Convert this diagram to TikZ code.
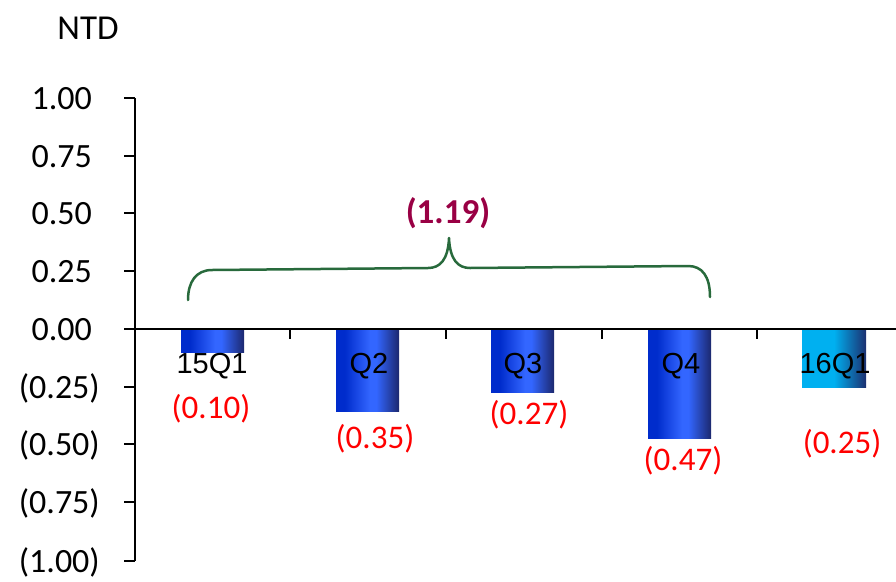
\documentclass[tikz,border=0pt]{standalone}
\usepackage{fontspec}
\setmainfont{Carlito}
\newfontfamily\arialf{Liberation Sans}
\definecolor{barL}{RGB}{0,44,204}
\definecolor{barM}{RGB}{51,102,255}
\definecolor{barR}{RGB}{28,40,110}
\definecolor{cyL}{RGB}{0,176,240}
\definecolor{cyR}{RGB}{28,48,112}
\definecolor{bracegreen}{RGB}{40,106,60}
\definecolor{totred}{RGB}{153,0,68}
\pgfdeclarehorizontalshading{bluegrad}{100bp}{color(0bp)=(barL); color(25bp)=(barL); color(32bp)=(barL); color(52bp)=(barM); color(57bp)=(barM); color(75bp)=(barR); color(100bp)=(barR)}
\pgfdeclarehorizontalshading{cyangrad}{100bp}{color(0bp)=(cyL); color(25bp)=(cyL); color(50bp)=(cyL); color(75bp)=(cyR); color(100bp)=(cyR)}
\tikzset{
  bluebar/.style={shading=bluegrad, draw=none},
  cyanbar/.style={shading=cyangrad, draw=none},
  ylab/.style={anchor=east, inner sep=0pt, font=\fontsize{34}{36}\selectfont},
  catlab/.style={inner sep=0pt, font=\arialf\fontsize{29}{31}\selectfont},
  vallab/.style={inner sep=0pt, text=red, font=\fontsize{33}{36}\selectfont},
  axisline/.style={line width=2.2pt, black},
  tickline/.style={line width=1.6pt, black}
}
\begin{document}
\begin{tikzpicture}[x=1pt,y=-1pt]
\useasboundingbox (0,0) rectangle (896,581);
% bars
\shade[bluebar] (181,329) rectangle (244,352);
\shade[bluebar] (336,329) rectangle (399,411);
\shade[bluebar] (491,329) rectangle (554,392);
\shade[bluebar] (648,329) rectangle (711,438);
\shade[cyanbar] (802,329) rectangle (866,387);
% axes
\coordinate (ytop) at (135,98);
\coordinate (ybot) at (135,561);
\coordinate (xl) at (124,329);
\coordinate (xr) at (896,329);
\draw[tickline] (ytop) -- (ybot);
\draw[axisline] (xl) -- (xr);
\foreach \v/\t in {98/1.00,156/0.75,213/0.50,271/0.25,329/0.00}{
  \draw[tickline] (124,\v) -- (135,\v);
  \node[ylab] at (92,\v+1) {\t};
}
\foreach \v/\t in {387/(0.25),444/(0.50),502/(0.75),561/(1.00)}{
  \draw[tickline] (124,\v) -- (135,\v);
  \node[ylab] at (100,\v+1) {\t};
}
\foreach \x in {290,446,602,757}{
  \draw[tickline] (\x,329) -- (\x,339);
}
\node[font=\fontsize{35}{37}\selectfont, inner sep=0pt] (ntd) at (88,28) {NTD};
% category labels
\node[catlab] (c1) at (212,366) {15Q1};
\node[catlab] (c2) at (369,366) {Q2};
\node[catlab] (c3) at (523,366) {Q3};
\node[catlab] (c4) at (681,366) {Q4};
\node[catlab] (c5) at (835,366) {16Q1};
% values
\node[vallab] (v1) at (211,409) {(0.10)};
\node[vallab] (v2) at (375,439) {(0.35)};
\node[vallab] (v3) at (529,415) {(0.27)};
\node[vallab] (v4) at (683,461) {(0.47)};
\node[vallab] (v5) at (842,444) {(0.25)};
% brace
\coordinate (bl) at (188,300);
\coordinate (br) at (710,297);
\coordinate (bt) at (449,238);
\draw[bracegreen, line width=2.5pt, line cap=round, line join=round]
  (bl) .. controls (188,282) and (196,270) .. (212,270)
  -- (428,268) .. controls (440,268) and (448,260) .. (bt)
  .. controls (450,260) and (458,268) .. (470,268)
  -- (688,266) .. controls (702,266) and (710,276) .. (br);
\node[text=totred, inner sep=0pt, font=\bfseries\fontsize{35}{38}\selectfont] (tot) at (448,213) {(1.19)};
\end{tikzpicture}
\end{document}
